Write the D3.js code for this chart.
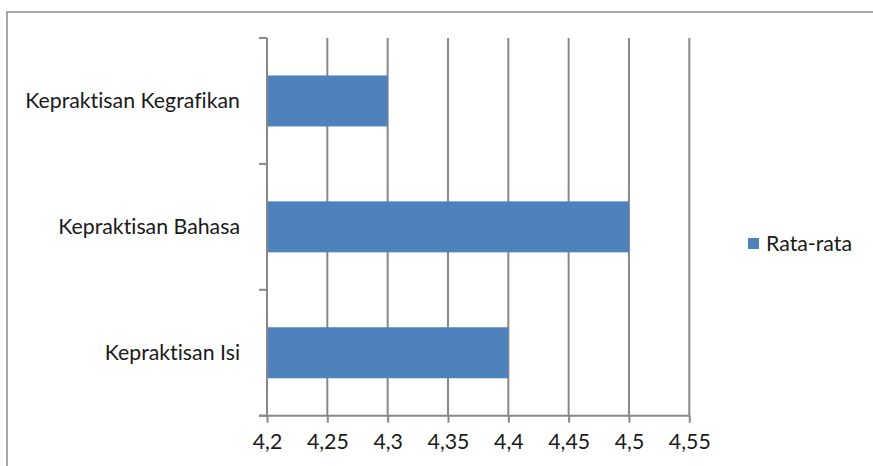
<!DOCTYPE html>
<html><head><meta charset="utf-8">
<script src="https://cdn.jsdelivr.net/npm/d3@7"></script>
<style>body{margin:0;background:#fff}svg{display:block}text{font-family:Lato,"Open Sans",sans-serif;fill:#1a1a1a;font-variant-ligatures:none;font-feature-settings:"liga" 0}</style>
</head><body>
<svg id="c" width="873" height="466"></svg>
<script>
const categories = ["Kepraktisan Isi", "Kepraktisan Bahasa", "Kepraktisan Kegrafikan"];
const values = [4.4, 4.5, 4.3];
const tickValues = [4.2, 4.25, 4.3, 4.35, 4.4, 4.45, 4.5, 4.55];
const seriesName = "Rata-rata";

const svg = d3.select("#c");
const gridColor = "#888888";
const barColor = "#4F81BD";

// fit font size to reference text width
const probe = svg.append("text").attr("font-size", 20).text("Kepraktisan Kegrafikan");
const fs = 20 * 215 / probe.node().getComputedTextLength();
probe.remove();

// outer chart border
svg.append("rect").attr("x", 7).attr("y", 12).attr("width", 880).attr("height", 470)
  .attr("fill", "none").attr("stroke", "#8a8a8a").attr("stroke-width", 1.5);

const x = d3.scaleLinear().domain([4.2, 4.55]).range([267, 689.3]);
const y = d3.scaleBand().domain(categories.slice().reverse()).range([38, 415.7]).paddingInner(0.595).paddingOuter(0.2975);
const yTicks = d3.scaleBand().domain(categories.slice().reverse()).range([38, 415.7]);

// gridlines
svg.append("g").selectAll("line").data(tickValues.slice(1)).join("line")
  .attr("x1", d => x(d)).attr("x2", d => x(d)).attr("y1", 38).attr("y2", 415.7)
  .attr("stroke", gridColor).attr("stroke-width", 2);

// bars
svg.append("g").selectAll("rect").data(categories).join("rect")
  .attr("x", x(4.2)).attr("y", d => y(d))
  .attr("width", (d, i) => x(values[i]) - x(4.2)).attr("height", y.bandwidth())
  .attr("fill", barColor);

// x axis
const xAxis = d3.axisBottom(x).tickValues(tickValues).tickSize(7).tickPadding(14)
  .tickFormat(d => d3.format("")(+d.toFixed(2)).replace(".", ","));
const gx = svg.append("g").attr("transform", "translate(0,415.7)").call(xAxis);
gx.select(".domain").attr("stroke", gridColor).attr("stroke-width", 2).attr("d", "M259,0H689.3");
gx.selectAll(".tick line").attr("stroke", gridColor).attr("stroke-width", 2);
gx.selectAll(".tick text").attr("font-size", fs).attr("font-family", "Lato,'Open Sans',sans-serif").attr("fill", "#1a1a1a")
  .attr("y", 26).attr("dy", "0.35em");

// y axis
const gy = svg.append("g").attr("transform", "translate(267,0)");
gy.append("line").attr("x1", 0).attr("x2", 0).attr("y1", 38).attr("y2", 415.7).attr("stroke", gridColor).attr("stroke-width", 2);
const bounds = categories.map(c => yTicks(c)).concat([415.7]);
gy.selectAll("line.t").data(bounds).join("line").attr("class", "t")
  .attr("x1", -8).attr("x2", 0).attr("y1", d => d).attr("y2", d => d)
  .attr("stroke", gridColor).attr("stroke-width", 2);
gy.selectAll("text").data(categories).join("text")
  .attr("x", -27).attr("y", d => yTicks(d) + yTicks.bandwidth() / 2)
  .attr("dy", "0.35em").attr("text-anchor", "end").attr("font-size", fs)
  .text(d => d);

// legend
const lg = svg.append("g").attr("transform", "translate(748,238)");
lg.append("rect").attr("width", 11).attr("height", 11).attr("fill", barColor);
lg.append("text").attr("x", 18).attr("y", 5.5).attr("dy", "0.35em").attr("font-size", fs).text(seriesName);
</script>
</body></html>
